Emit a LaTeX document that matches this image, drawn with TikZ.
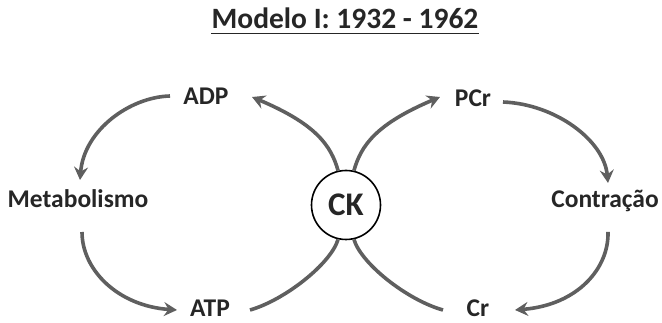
\documentclass[tikz,border=0pt]{standalone}
\usepackage{fontspec}
\setmainfont{Carlito}
\usetikzlibrary{arrows.meta,calc}
\definecolor{txt}{RGB}{38,38,38}
\definecolor{arrgray}{RGB}{95,95,95}
\begin{document}
\begin{tikzpicture}[x=1pt,y=-1pt,
  lbl/.style={font=\fontsize{25.5}{28}\selectfont\bfseries, text=txt, inner sep=0pt, anchor=base},
  conn/.style={draw=arrgray, line width=3.6pt},
  arr/.style={conn, -{Stealth[length=13pt,width=14pt,inset=4.5pt]}},
  ckbox/.style={circle, draw=black, line width=1.6pt, minimum size=69pt, inner sep=0pt,
    font=\fontsize{33}{36}\selectfont\bfseries, text=txt}]
\useasboundingbox (0,0) rectangle (662,323);
\node[lbl, font=\fontsize{29.5}{32}\selectfont\bfseries] (title) at (345,29) {Modelo I: 1932 - 1962};
\draw[txt, line width=1.8pt] ($(title.base west)+(0,4.5)$) -- ($(title.base east)+(0,4.5)$);
\node[lbl] (adp) at (206,105) {ADP};
\node[lbl] (pcr) at (473,107) {PCr};
\node[lbl] (meta) at (78,208) {Metabolismo};
\node[lbl] (cont) at (605,208) {Contração};
\node[lbl] (atp) at (210,317) {ATP};
\node[lbl] (cr) at (478,317) {Cr};
\node[ckbox] (ck) at (346,205) {CK};
% left cycle
\draw[arr] ($(adp.base)+(-36,-9)$) .. controls ($(adp.base)+(-76,-8)$) and ($(meta.base)+(6,-78)$) .. ($(meta.base)+(2,-28)$);
\draw[arr] ($(meta.base)+(4,24)$) .. controls ($(meta.base)+(4,62)$) and ($(atp.base)+(-92,-11)$) .. ($(atp.base)+(-33,-7)$);
% right cycle
\draw[arr] ($(pcr.base)+(30,-5)$) .. controls ($(pcr.base)+(82,-3)$) and ($(cont.base)+(-1,-68)$) .. ($(cont.base)+(3,-25)$);
\draw[arr] ($(cont.base)+(3,24)$) .. controls ($(cont.base)+(4,60)$) and ($(cr.base)+(100,-12)$) .. ($(cr.base)+(37,-7)$);
% CK connectors
\draw[arr] (ck.103) .. controls ($(ck.103)+(-7,-25)$) and (316,124) .. ($(adp.base)+(46,-8)$);
\draw[arr] (ck.77) .. controls ($(ck.77)+(7,-25)$) and (376,124) .. ($(pcr.base)+(-33,-10)$);
\draw[conn] (ck.257) .. controls ($(ck.257)+(-7,24)$) and (285,300) .. ($(atp.base)+(40,-7)$);
\draw[conn] (ck.283) .. controls ($(ck.283)+(7,24)$) and (407,300) .. ($(cr.base)+(-35,-7)$);
\end{tikzpicture}
\end{document}
